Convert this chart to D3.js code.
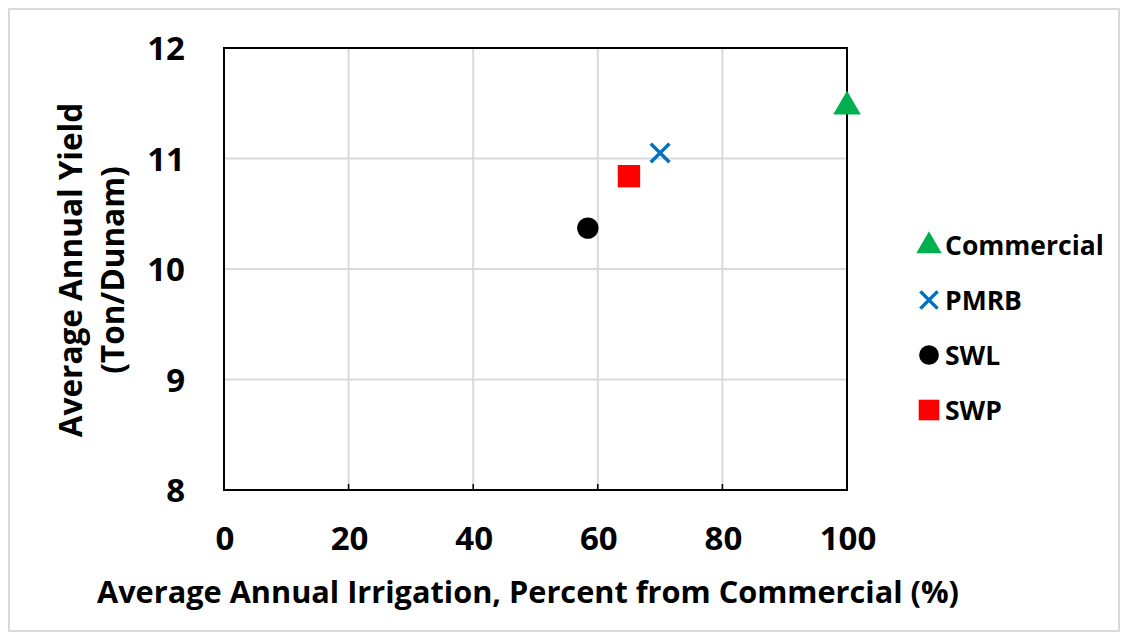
<!DOCTYPE html>
<html><head><meta charset="utf-8">
<script src="https://cdn.jsdelivr.net/npm/d3@7"></script>
<style>body{margin:0;background:#fff;} text{font-family:"Open Sans","Noto Sans",sans-serif;font-weight:bold;fill:#000;}</style>
</head><body><svg id="c" width="1129" height="640"></svg>
<script>
const series = ["Commercial","PMRB","SWL","SWP"];
const xValues = [100, 70.0, 58.4, 65.0];
const yValues = [11.47, 11.05, 10.37, 10.84];
const colors = ["#00b050","#0070c0","#000000","#ff0000"];
const symbols = ["triangle","cross","circle","square"];
const xTicks = [0,20,40,60,80,100];
const yTicks = [8,9,10,11,12];

const svg = d3.select("#c");
svg.append("rect").attr("x",9).attr("y",9).attr("width",1110).attr("height",622)
  .attr("fill","#fff").attr("stroke","#d9d9d9").attr("stroke-width",2);

const L=224,R=847,T=48,B=490;
const x = d3.scaleLinear().domain([0,100]).range([L,R]);
const y = d3.scaleLinear().domain([8,12]).range([B,T]);

const g = svg.append("g");
g.selectAll(".vg").data(xTicks).enter().append("line")
  .attr("x1",d=>x(d)).attr("x2",d=>x(d)).attr("y1",T).attr("y2",B)
  .attr("stroke","#d9d9d9").attr("stroke-width",2);
g.selectAll(".hg").data(yTicks).enter().append("line")
  .attr("x1",L).attr("x2",R).attr("y1",d=>y(d)).attr("y2",d=>y(d))
  .attr("stroke","#d9d9d9").attr("stroke-width",2);
g.selectAll(".xt").data(xTicks).enter().append("line")
  .attr("x1",d=>x(d)).attr("x2",d=>x(d)).attr("y1",B).attr("y2",B-6)
  .attr("stroke","#000").attr("stroke-width",1.5);
g.append("rect").attr("x",L).attr("y",T).attr("width",R-L).attr("height",B-T)
  .attr("fill","none").attr("stroke","#000").attr("stroke-width",2);

g.selectAll(".xl").data(xTicks).enter().append("text")
  .attr("x",d=>x(d)+1).attr("y",550).attr("text-anchor","middle")
  .style("font-size","33px").text(d=>d);
g.selectAll(".yl").data(yTicks).enter().append("text")
  .attr("x",185).attr("y",d=>y(d)+12).attr("text-anchor","end")
  .style("font-size","33px").text(d=>d);

svg.append("text").attr("x",528).attr("y",603).attr("text-anchor","middle")
  .style("font-size","30.7px").text("Average Annual Irrigation, Percent from Commercial (%)");
const yt = svg.append("text").attr("transform","translate(82,270) rotate(-90)")
  .attr("text-anchor","middle").style("font-size","31.5px");
yt.append("tspan").attr("x",0).attr("dy",0).text("Average Annual Yield");
yt.append("tspan").attr("x",0).attr("dy",42).text("(Ton/Dunam)");

function sym(i,size){
  const t = {triangle:d3.symbolTriangle,cross:d3.symbolX,circle:d3.symbolCircle,square:d3.symbolSquare}[symbols[i]];
  return d3.symbol().type(t).size(size)();
}
function drawMark(sel,i,cx,cy,scale){
  const p = sel.append("path").attr("transform",`translate(${cx},${cy})`);
  if(symbols[i]==="cross"){
    p.attr("d",sym(i,230*scale)).attr("fill","none").attr("stroke",colors[i]).attr("stroke-width",3.5);
  } else {
    const sz = {triangle:330,circle:360,square:500}[symbols[i]]*scale;
    p.attr("d",sym(i,sz)).attr("fill",colors[i]);
  }
}
series.forEach((s,i)=>drawMark(svg,i,x(xValues[i]),y(yValues[i]),1));

const ly = [245,300,355,410];
series.forEach((s,i)=>{
  drawMark(svg,i,929,ly[i]+(symbols[i]==="triangle"?1:0),0.85);
  svg.append("text").attr("x",945).attr("y",ly[i]+10).style("font-size","26.5px").text(s);
});
</script></body></html>
